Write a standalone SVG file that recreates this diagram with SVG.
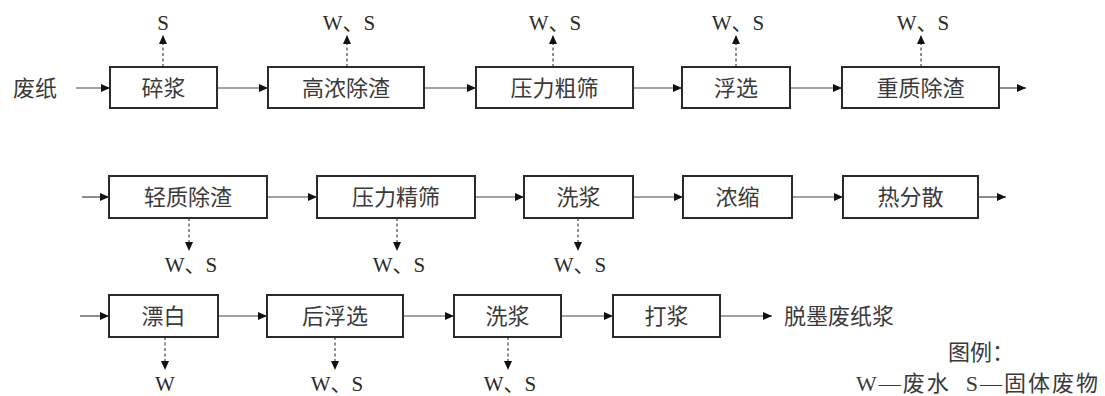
<svg xmlns="http://www.w3.org/2000/svg" width="1105" height="396" viewBox="0 0 1105 396">
<style>
.box{fill:#fff;stroke:#2a2a2a;stroke-width:2}
.t{font-family:"Liberation Serif","Noto Sans CJK SC",serif;font-size:22px;fill:#3a3a3a;text-anchor:middle;dominant-baseline:central}
.l{font-family:"Liberation Serif","Noto Sans CJK SC",serif;font-size:21px;fill:#2a2a2a;text-anchor:middle}
.c{stroke:#444;stroke-width:1.2;fill:none;marker-end:url(#ah)}
.d{stroke:#444;stroke-width:1.2;fill:none;stroke-dasharray:3 2.5;marker-end:url(#ah)}
</style>
<defs>
<marker id="ah" markerUnits="userSpaceOnUse" markerWidth="9" markerHeight="8" refX="9" refY="4" orient="auto">
<path d="M0,0 L9,4 L0,8 z" fill="#111"/>
</marker>
</defs>
<rect width="1105" height="396" fill="#fff"/>
<g id="connectors">
<line class="c" x1="76" y1="88" x2="110" y2="88"/>
<line class="c" x1="217" y1="88" x2="268" y2="88"/>
<line class="c" x1="424" y1="88" x2="476" y2="88"/>
<line class="c" x1="633" y1="88" x2="682" y2="88"/>
<line class="c" x1="790" y1="88" x2="842" y2="88"/>
<line class="c" x1="999" y1="88" x2="1026" y2="88"/>
<line class="d" x1="163" y1="67" x2="163" y2="35"/>
<line class="d" x1="347" y1="67" x2="347" y2="35"/>
<line class="d" x1="553" y1="67" x2="553" y2="35"/>
<line class="d" x1="736" y1="67" x2="736" y2="35"/>
<line class="d" x1="921" y1="67" x2="921" y2="35"/>
<line class="c" x1="82" y1="197" x2="109" y2="197"/>
<line class="c" x1="267" y1="197" x2="317" y2="197"/>
<line class="c" x1="475" y1="197" x2="524" y2="197"/>
<line class="c" x1="633" y1="197" x2="683" y2="197"/>
<line class="c" x1="792" y1="197" x2="843" y2="197"/>
<line class="c" x1="978" y1="197" x2="1006" y2="197"/>
<line class="d" x1="189" y1="218" x2="189" y2="251"/>
<line class="d" x1="397" y1="218" x2="397" y2="251"/>
<line class="d" x1="578" y1="218" x2="578" y2="251"/>
<line class="c" x1="80" y1="316" x2="109" y2="316"/>
<line class="c" x1="218" y1="316" x2="267" y2="316"/>
<line class="c" x1="403" y1="316" x2="454" y2="316"/>
<line class="c" x1="561" y1="316" x2="613" y2="316"/>
<line class="c" x1="720" y1="316" x2="772" y2="316"/>
<line class="d" x1="165" y1="337" x2="165" y2="370"/>
<line class="d" x1="335" y1="337" x2="335" y2="370"/>
<line class="d" x1="508" y1="337" x2="508" y2="370"/>
</g>
<g id="labels">
<text class="t" x="35" y="88">废纸</text>
<text class="l" x="163" y="30">S</text>
<text class="l" x="349" y="30">W、S</text>
<text class="l" x="555" y="30">W、S</text>
<text class="l" x="738" y="30">W、S</text>
<text class="l" x="923" y="30">W、S</text>
<text class="l" x="191" y="272">W、S</text>
<text class="l" x="399" y="272">W、S</text>
<text class="l" x="580" y="272">W、S</text>
<text class="l" x="165" y="391">W</text>
<text class="l" x="337" y="391">W、S</text>
<text class="l" x="510" y="391">W、S</text>
<text class="t" x="839" y="316">脱墨废纸浆</text>
<text class="t" x="981" y="352">图例：</text>
<text class="t" x="1100" y="383" xml:space="preserve" style="text-anchor:end;letter-spacing:2px;white-space:pre">W—废水  S—固体废物</text>
</g>
<g id="n1"><rect class="box" x="110" y="67" width="107" height="41"/><text class="t" x="163.5" y="88">碎浆</text></g>
<g id="n2"><rect class="box" x="268" y="67" width="156" height="41"/><text class="t" x="346" y="88">高浓除渣</text></g>
<g id="n3"><rect class="box" x="476" y="67" width="157" height="41"/><text class="t" x="554.5" y="88">压力粗筛</text></g>
<g id="n4"><rect class="box" x="682" y="67" width="108" height="41"/><text class="t" x="736" y="88">浮选</text></g>
<g id="n5"><rect class="box" x="842" y="67" width="157" height="41"/><text class="t" x="920.5" y="88">重质除渣</text></g>
<g id="n6"><rect class="box" x="109" y="176" width="158" height="42"/><text class="t" x="188" y="197">轻质除渣</text></g>
<g id="n7"><rect class="box" x="317" y="176" width="158" height="42"/><text class="t" x="396" y="197">压力精筛</text></g>
<g id="n8"><rect class="box" x="524" y="176" width="109" height="42"/><text class="t" x="578.5" y="197">洗浆</text></g>
<g id="n9"><rect class="box" x="683" y="176" width="109" height="42"/><text class="t" x="737.5" y="197">浓缩</text></g>
<g id="n10"><rect class="box" x="843" y="176" width="135" height="42"/><text class="t" x="910.5" y="197">热分散</text></g>
<g id="n11"><rect class="box" x="109" y="295" width="109" height="42"/><text class="t" x="163.5" y="316">漂白</text></g>
<g id="n12"><rect class="box" x="267" y="295" width="136" height="42"/><text class="t" x="335" y="316">后浮选</text></g>
<g id="n13"><rect class="box" x="454" y="295" width="107" height="42"/><text class="t" x="507.5" y="316">洗浆</text></g>
<g id="n14"><rect class="box" x="613" y="295" width="107" height="42"/><text class="t" x="666.5" y="316">打浆</text></g>
</svg>
